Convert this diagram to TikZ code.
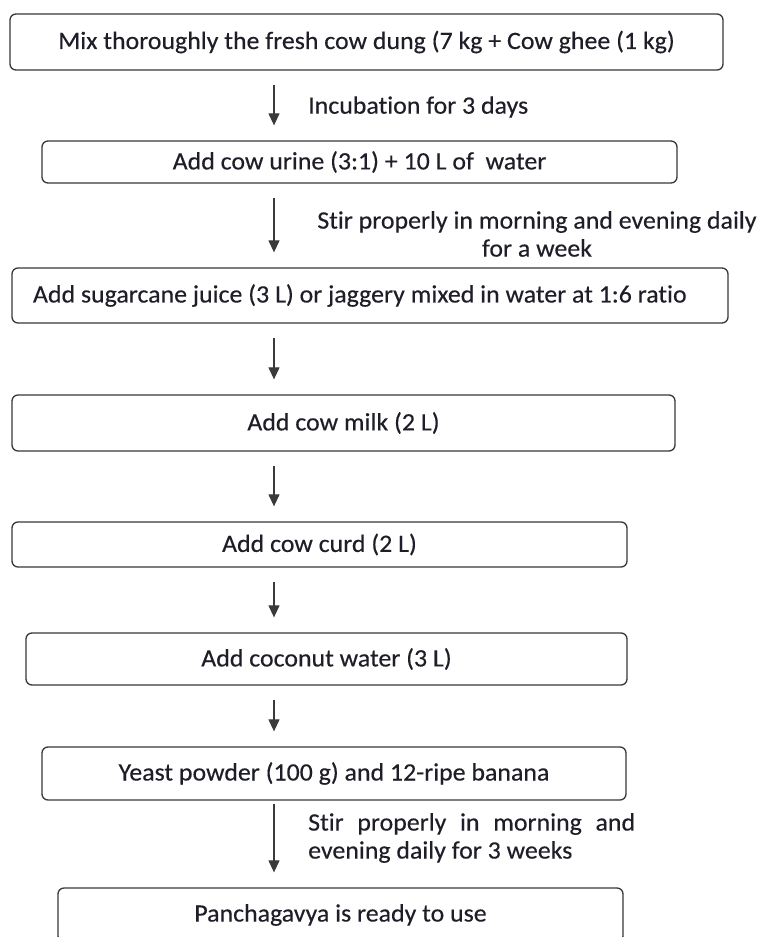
\documentclass[tikz,border=0pt]{standalone}
\usepackage{fontspec}
\setmainfont[Ligatures=NoCommon, FakeStretch=1.035, FakeBold=0.3]{Carlito}
\usetikzlibrary{arrows.meta}
\definecolor{boxgray}{HTML}{383838}
\definecolor{arrgray}{HTML}{3A3A3A}
\definecolor{txt}{HTML}{1E1E28}
\newcommand{\fs}{\fontsize{25}{28}\selectfont}
\begin{document}
\begin{tikzpicture}[x=1pt,y=-1pt,
  stepbox/.style={draw=boxgray, line width=1.3pt, rounded corners=6pt, fill=white, inner sep=0pt, font=\fs, text=txt},
  arr/.style={draw=arrgray, line width=1.2pt, -{Triangle[length=12pt,width=11pt]}, shorten <=14pt, shorten >=15pt},
  lbl/.style={font=\fs, text=txt, inner sep=0pt}]
\clip (0,0) rectangle (761,937);
\fill[white] (0,0) rectangle (761,937);
\coordinate (ax) at (274,0);
\node[stepbox, minimum width=713pt, minimum height=56pt] (b1) at (366.5,42) {Mix thoroughly the fresh cow dung (7 kg + Cow ghee (1 kg)};
\node[stepbox, minimum width=635pt, minimum height=42pt] (b2) at (359.5,162) {Add cow urine (3:1) + 10 L of\ \ water};
\node[stepbox, minimum width=716pt, minimum height=55pt] (b3) at (370,295.5) {\makebox[674pt][l]{Add sugarcane juice (3 L) or jaggery mixed in water at 1:6 ratio}};
\node[stepbox, minimum width=663pt, minimum height=56pt] (b4) at (343.5,423) {Add cow milk (2 L)};
\node[stepbox, minimum width=615pt, minimum height=45pt] (b5) at (319.5,544.5) {Add cow curd (2 L)};
\node[stepbox, minimum width=601pt, minimum height=52pt] (b6) at (326.5,659) {Add coconut water (3 L)};
\node[stepbox, minimum width=584pt, minimum height=53pt] (b7) at (334,773.5) {Yeast powder (100 g) and 12-ripe banana};
\node[stepbox, minimum width=565pt, minimum height=54pt] (b8) at (340.5,915) {Panchagavya is ready to use};
\draw[arr] (b1.south -| ax) -- (b2.north -| ax);
\draw[arr] (b2.south -| ax) -- (b3.north -| ax);
\draw[arr] (b3.south -| ax) -- (b4.north -| ax);
\draw[arr] (b4.south -| ax) -- (b5.north -| ax);
\draw[arr] (b5.south -| ax) -- (b6.north -| ax);
\draw[arr] (b6.south -| ax) -- (b7.north -| ax);
\draw[arr, shorten <=3pt] (b7.south -| ax) -- (b8.north -| ax);
\node[lbl, anchor=west] (l1) at (308,107) {Incubation for 3 days};
\node[lbl, align=center] (l2) at (537,234) {Stir properly in morning and evening daily\\for a week};
\node[lbl, anchor=north west, align=left] (l7) at (308,813) {\makebox[327pt][s]{Stir properly in morning and}\\evening daily for 3 weeks};
\end{tikzpicture}
\end{document}
